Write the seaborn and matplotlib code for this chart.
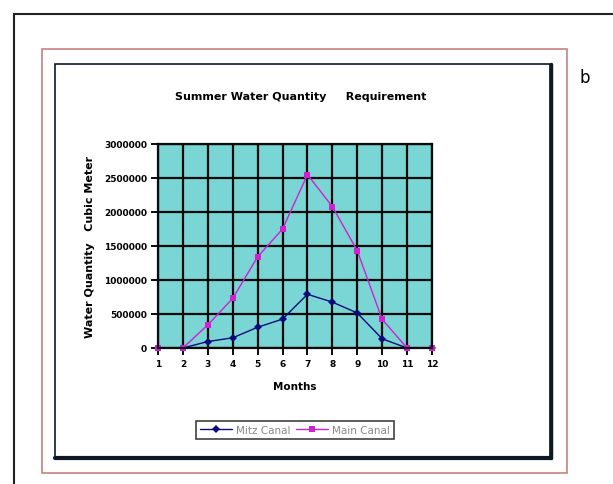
import matplotlib
matplotlib.use("Agg")
import matplotlib.pyplot as plt
import seaborn as sns
import pandas as pd
from matplotlib.patches import Rectangle
from matplotlib.lines import Line2D

months = [1, 2, 3, 4, 5, 6, 7, 8, 9, 10, 11, 12]
mitz_canal = [0, 0, 95000, 150000, 305000, 425000, 790000, 675000, 515000, 135000, 0, 0]
main_canal = [0, 0, 340000, 730000, 1340000, 1750000, 2550000, 2080000, 1430000, 420000, 0, 0]
series_names = ["Mitz Canal", "Main Canal"]
y_ticks = [0, 500000, 1000000, 1500000, 2000000, 2500000, 3000000]

title = "Summer Water Quantity     Requirement"
x_label = "Months"
y_label = "Water Quantity   Cubic Meter"

df = pd.DataFrame({
    "Month": months * 2,
    "Value": mitz_canal + main_canal,
    "Series": [series_names[0]] * len(months) + [series_names[1]] * len(months),
})

sns.set_theme(style="white")
plt.rcParams["font.family"] = ["DejaVu Sans"]
plt.rcParams["text.color"] = "black"
plt.rcParams["axes.labelcolor"] = "black"
plt.rcParams["xtick.color"] = "black"
plt.rcParams["ytick.color"] = "black"

W, H = 613, 485
fig = plt.figure(figsize=(W / 100, H / 100), dpi=100)
fig.patch.set_facecolor("white")

def px_rect(x0, y0, x1, y1, **kw):
    r = Rectangle((x0 / W, 1 - y1 / H), (x1 - x0) / W, (y1 - y0) / H,
                  transform=fig.transFigure, fill=False, **kw)
    fig.patches.append(r)

# frames
px_rect(14, 15, 640, 520, edgecolor="#222222", linewidth=1.5)
px_rect(42, 50, 567, 474, edgecolor="#c98080", linewidth=1.2)
px_rect(55, 65, 550, 458, edgecolor="#101828", linewidth=1.2)
fig.add_artist(Line2D([55 / W, 551 / W], [1 - 458.5 / H, 1 - 458.5 / H],
                      transform=fig.transFigure, color="#101828", linewidth=3))
fig.add_artist(Line2D([550.5 / W, 550.5 / W], [1 - 65 / H, 1 - 459 / H],
                      transform=fig.transFigure, color="#101828", linewidth=2.5))
fig.text(585 / W, 1 - 78 / H, "b", fontsize=12, ha="center", va="center")

ax = fig.add_axes([158 / W, 1 - 349 / H, (432 - 158) / W, (349 - 145) / H])
ax.set_facecolor("#7ad6d4")

palette = {series_names[0]: "#0A0A78", series_names[1]: "#D020D0"}
sns.lineplot(data=df, x="Month", y="Value", hue="Series", style="Series",
             markers={series_names[0]: "D", series_names[1]: "s"},
             dashes=False, palette=palette, linewidth=1.0, markersize=4.5,
             markeredgewidth=0, ax=ax, legend=False)

ax.set_xlim(1, 12)
ax.set_ylim(0, 3000000)
ax.set_xticks(months)
ax.set_xticklabels([str(m) for m in months], fontsize=6.5, fontweight="bold")
ax.set_yticks(y_ticks)
ax.set_yticklabels([str(v) for v in y_ticks], fontsize=6.5, fontweight="bold")
ax.grid(True, color="#0a0a0a", linewidth=1.6)
ax.set_axisbelow(True)
for s in ax.spines.values():
    s.set_color("#0a0a0a")
    s.set_linewidth(1.6)
ax.tick_params(axis="both", which="major", length=5, width=1.4, color="#0a0a0a",
               direction="out", pad=3, bottom=True, left=True)
for line in ax.get_lines():
    line.set_clip_on(False)

ax.set_xlabel(x_label, fontsize=7.5, fontweight="bold", labelpad=9)
ax.set_ylabel(y_label, fontsize=8, fontweight="bold", labelpad=6)
fig.text(301 / W, 1 - 97 / H, title, fontsize=8, fontweight="bold",
         ha="center", va="center")

# legend
handles = [Line2D([], [], color=palette[n], marker=m, markersize=4.5, linewidth=1.0,
                  markeredgewidth=0)
           for n, m in zip(series_names, ["D", "s"])]
leg = fig.legend(handles, series_names, loc="center",
                 bbox_to_anchor=(295 / W, 1 - 431 / H), ncol=2, frameon=True,
                 fontsize=7.5, handlelength=3.0, columnspacing=0.6, handletextpad=0.4,
                 borderpad=0.4, fancybox=False)
leg.get_frame().set_edgecolor("#111111")
leg.get_frame().set_linewidth(1.2)
for t in leg.get_texts():
    t.set_color("#888888")

fig.savefig("out.png", dpi=100)
